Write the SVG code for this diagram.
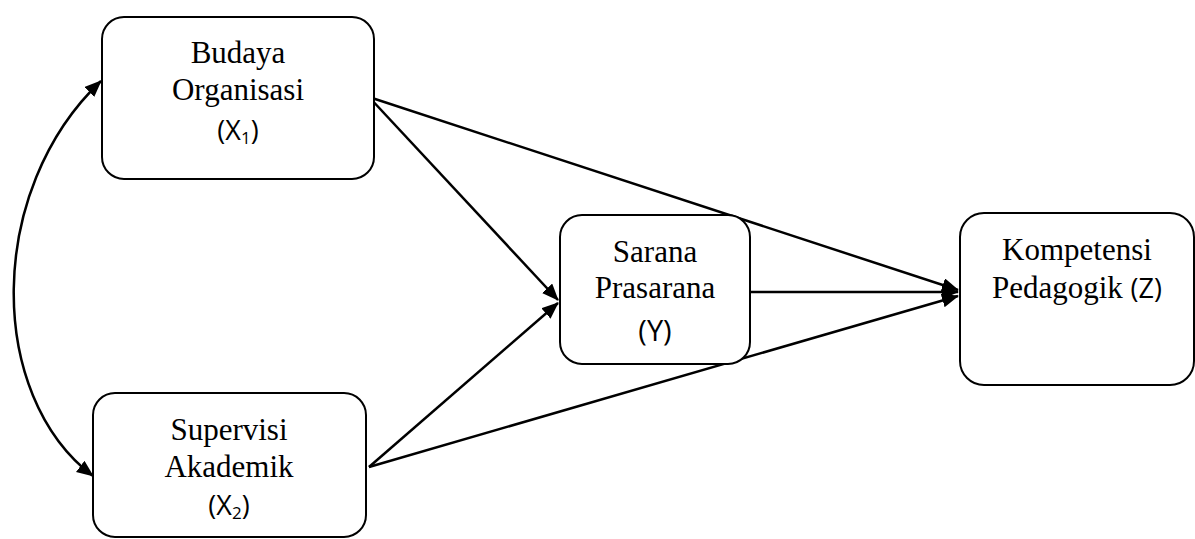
<svg xmlns="http://www.w3.org/2000/svg" width="1195" height="539" viewBox="0 0 1195 539">
<style>
.box{fill:#fff;stroke:#000;stroke-width:2}
.t{font-family:"Liberation Serif","Times New Roman",serif;font-size:31px;fill:#000;text-anchor:middle}
.c{fill:none;stroke:#000;stroke-width:2.5}
</style>
<defs>
<marker id="ah" markerUnits="userSpaceOnUse" markerWidth="18" markerHeight="16" refX="16" refY="7" orient="auto">
<path d="M0,0 L17,7 L0,14 z" fill="#000"/>
</marker>
<marker id="ahs" markerUnits="userSpaceOnUse" markerWidth="18" markerHeight="16" refX="16" refY="7" orient="auto-start-reverse">
<path d="M0,0 L17,7 L0,14 z" fill="#000"/>
</marker>
</defs>
<g id="connectors">
<path class="c" d="M369,97 L558,300" marker-end="url(#ah)"/>
<path class="c" d="M369,97 L958,290" marker-end="url(#ah)"/>
<path class="c" d="M369,467 L558,303" marker-end="url(#ah)"/>
<path class="c" d="M369,467 L958,296" marker-end="url(#ah)"/>
<path class="c" d="M750,292 L958,292" marker-end="url(#ah)"/>
<path class="c" d="M101,81 C-14,190 -14,395 93,476" marker-start="url(#ahs)" marker-end="url(#ahs)"/>
</g>
<g id="x1">
<rect class="box" x="102" y="17" width="272" height="162" rx="22"/>
<text class="t" x="238" y="63">Budaya</text>
<text class="t" x="238" y="100">Organisasi</text>
<text x="238" y="140" text-anchor="middle" font-family="Open Sans, Liberation Sans, sans-serif" font-size="27" fill="#000">(X<tspan font-size="17" dy="4">1</tspan><tspan dy="-4">)</tspan></text>
</g>
<g id="x2">
<rect class="box" x="93" y="393" width="273" height="144" rx="22"/>
<text class="t" x="229" y="440">Supervisi</text>
<text class="t" x="229" y="477">Akademik</text>
<text x="229" y="515" text-anchor="middle" font-family="Open Sans, Liberation Sans, sans-serif" font-size="27" fill="#000">(X<tspan font-size="17" dy="4">2</tspan><tspan dy="-4">)</tspan></text>
</g>
<g id="y">
<rect class="box" x="560" y="215" width="190" height="149" rx="22"/>
<text class="t" x="655" y="262">Sarana</text>
<text class="t" x="655" y="298">Prasarana</text>
<text x="655" y="341" text-anchor="middle" font-family="Open Sans, Liberation Sans, sans-serif" font-size="29" fill="#000">(Y)</text>
</g>
<g id="z">
<rect class="box" x="960" y="213" width="234" height="172" rx="24"/>
<text class="t" x="1077" y="260">Kompetensi</text>
<text class="t" x="1077" y="298">Pedagogik <tspan font-family="Open Sans, Liberation Sans, sans-serif" font-size="27">(Z)</tspan></text>
</g>
</svg>
